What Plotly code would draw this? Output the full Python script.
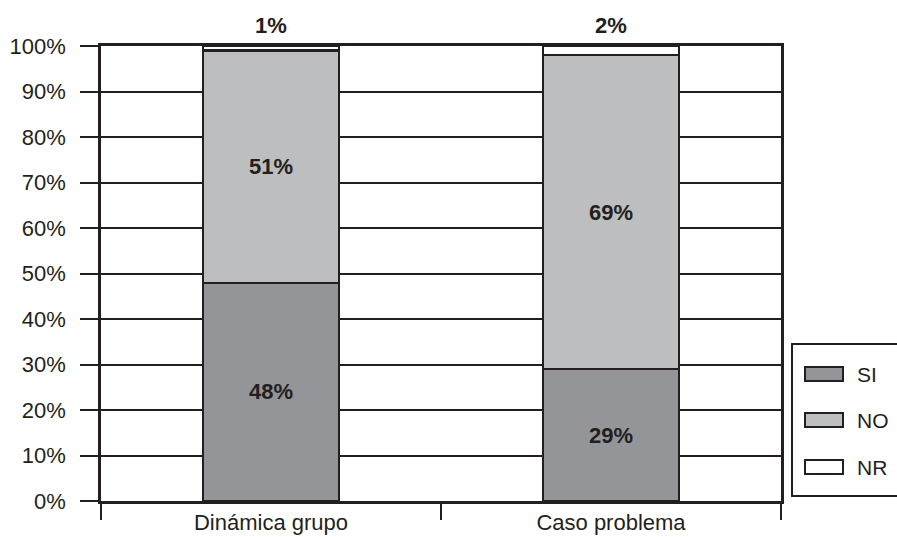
import plotly.graph_objects as go

# --- data -------------------------------------------------------------
categories = ["Dinámica grupo", "Caso problema"]
series_names = ["SI", "NO", "NR"]
si_values = [48, 29]
no_values = [51, 69]
nr_values = [1, 2]
y_tick_values = list(range(0, 101, 10))
y_tick_labels = [f"{v}%" for v in y_tick_values]

# --- style ------------------------------------------------------------
INK = "#231f20"
FILLS = {"SI": "#939598", "NO": "#bcbec0", "NR": "#ffffff"}
FONT = "Liberation Sans, Arial, Helvetica, sans-serif"

W, H = 897, 537
ML, MR, MT, MB = 101, 116, 46, 36
PW = W - ML - MR
PH = H - MT - MB


def paper_x(px):
    return (px - ML) / PW


def paper_y(py):
    return (H - MB - py) / PH


fig = go.Figure()

series_values = [si_values, no_values, nr_values]
for name, vals in zip(series_names, series_values):
    labelled_inside = name != "NR"
    fig.add_bar(
        x=categories,
        y=vals,
        name=name,
        width=0.4,
        marker=dict(color=FILLS[name], line=dict(color=INK, width=2.2)),
        texttemplate="<b>%{y}%</b>" if labelled_inside else None,
        textposition="inside" if labelled_inside else "none",
        insidetextanchor="middle",
        textangle=0,
        textfont=dict(family=FONT, size=22, color=INK),
        showlegend=False,
        hovertemplate=name + ": %{y}%<extra></extra>",
    )

# NR shares are too thin to hold text: label them above the stack
for cat, s, n, r in zip(categories, si_values, no_values, nr_values):
    fig.add_annotation(
        x=cat, y=s + n + r, text=f"<b>{r}%</b>", showarrow=False,
        yanchor="bottom", yshift=6,
        font=dict(family=FONT, size=22, color=INK),
    )

# boxed legend with wide swatches
legend_rows = [374, 420, 467]
fig.add_shape(
    type="rect", xref="paper", yref="paper",
    x0=paper_x(792), x1=paper_x(915), y0=paper_y(496), y1=paper_y(344),
    line=dict(color=INK, width=2), fillcolor="rgba(0,0,0,0)",
)
for name, cy in zip(series_names, legend_rows):
    fig.add_shape(
        type="rect", xref="paper", yref="paper",
        x0=paper_x(805), x1=paper_x(843), y0=paper_y(cy + 7), y1=paper_y(cy - 7),
        line=dict(color=INK, width=2), fillcolor=FILLS[name],
    )
    fig.add_annotation(
        xref="paper", yref="paper", x=paper_x(855), y=paper_y(cy),
        xanchor="left", yanchor="middle", text=name, showarrow=False,
        font=dict(family=FONT, size=21, color=INK),
    )

fig.update_layout(
    width=W, height=H,
    margin=dict(l=ML, r=MR, t=MT, b=MB, pad=0),
    barmode="stack",
    paper_bgcolor="white", plot_bgcolor="white",
    font=dict(family=FONT, size=22, color=INK),
    showlegend=False,
)

fig.update_yaxes(
    range=[0, 100],
    tickvals=y_tick_values, ticktext=y_tick_labels,
    showgrid=True, gridcolor=INK, gridwidth=2.4,
    ticks="outside", ticklen=18, tickwidth=2.4, tickcolor=INK,
    ticklabelstandoff=10,
    showline=True, linecolor=INK, linewidth=2.6, mirror=True,
    zeroline=False, automargin=False,
    tickfont=dict(family=FONT, size=22, color=INK),
)
fig.update_xaxes(
    type="category",
    showgrid=False,
    ticks="outside", tickson="boundaries", ticklen=16, tickwidth=2.4, tickcolor=INK,
    showline=True, linecolor=INK, linewidth=2.8, mirror=True,
    automargin=False,
    tickfont=dict(family=FONT, size=22, color=INK),
)

fig.write_html("out.html")
